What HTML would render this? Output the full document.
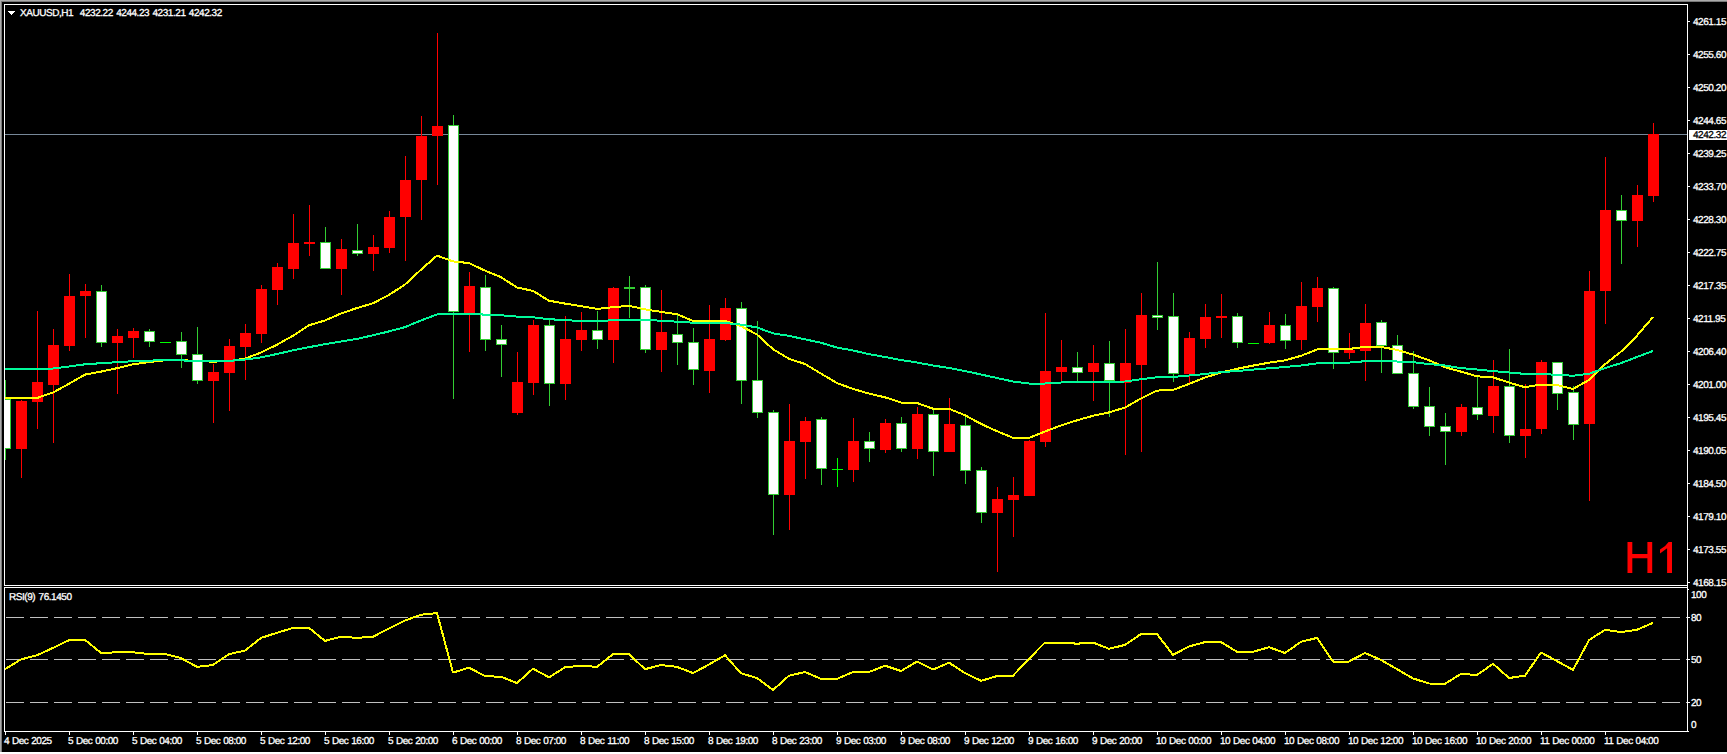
<!DOCTYPE html><html><head><meta charset="utf-8"><title>XAUUSD,H1</title><style>
html,body{margin:0;padding:0;background:#000;}
body{width:1727px;height:754px;overflow:hidden;position:relative;font-family:"Liberation Sans",sans-serif;color:#fff;}
svg{position:absolute;left:0;top:0;}
.t{position:absolute;white-space:nowrap;font-size:10px;line-height:12px;letter-spacing:-0.45px;color:#fff;text-rendering:geometricPrecision;-webkit-text-stroke:0.3px;}
.pl{left:1693px;}
.tl{top:736px;word-spacing:0.5px;}
</style></head><body>
<svg width="1727" height="754" viewBox="0 0 1727 754" shape-rendering="crispEdges">
<rect x="0" y="0" width="1727" height="754" fill="#000"/>
<rect x="0" y="0" width="1727" height="1" fill="#ABABAB"/><rect x="0" y="1" width="1727" height="1" fill="#7a7a7a"/>
<rect x="0" y="0" width="1" height="752" fill="#ABABAB"/><rect x="1" y="1" width="1" height="751" fill="#7a7a7a"/>
<rect x="0" y="752" width="1727" height="2" fill="#ffffff"/>
<rect x="5" y="134" width="1682" height="1" fill="#778899"/>
<defs><clipPath id="cp"><rect x="5" y="5" width="1682" height="580"/></clipPath><clipPath id="cr"><rect x="5" y="588" width="1682" height="143"/></clipPath></defs><g clip-path="url(#cp)">
<rect x="5" y="380" width="1" height="80" fill="#32CD32"/>
<rect x="0" y="399" width="11" height="50" fill="#32CD32"/>
<rect x="1" y="400" width="9" height="48" fill="#FFFFFF"/>
<rect x="21" y="400" width="1" height="78" fill="#FF0000"/>
<rect x="16" y="401" width="11" height="48" fill="#FF0000"/>
<rect x="37" y="311" width="1" height="118" fill="#FF0000"/>
<rect x="32" y="382" width="11" height="20" fill="#FF0000"/>
<rect x="53" y="329" width="1" height="114" fill="#FF0000"/>
<rect x="48" y="345" width="11" height="40" fill="#FF0000"/>
<rect x="69" y="274" width="1" height="77" fill="#FF0000"/>
<rect x="64" y="296" width="11" height="50" fill="#FF0000"/>
<rect x="85" y="284" width="1" height="54" fill="#FF0000"/>
<rect x="80" y="291" width="11" height="5" fill="#FF0000"/>
<rect x="101" y="285" width="1" height="62" fill="#32CD32"/>
<rect x="96" y="291" width="11" height="52" fill="#32CD32"/>
<rect x="97" y="292" width="9" height="50" fill="#FFFFFF"/>
<rect x="117" y="329" width="1" height="65" fill="#FF0000"/>
<rect x="112" y="336" width="11" height="7" fill="#FF0000"/>
<rect x="133" y="328" width="1" height="30" fill="#FF0000"/>
<rect x="128" y="331" width="11" height="7" fill="#FF0000"/>
<rect x="149" y="329" width="1" height="18" fill="#32CD32"/>
<rect x="144" y="331" width="11" height="11" fill="#32CD32"/>
<rect x="145" y="332" width="9" height="9" fill="#FFFFFF"/>
<rect x="165" y="342" width="1" height="1" fill="#00FF00"/>
<rect x="160" y="342" width="11" height="1" fill="#00FF00"/>
<rect x="181" y="332" width="1" height="36" fill="#32CD32"/>
<rect x="176" y="341" width="11" height="14" fill="#32CD32"/>
<rect x="177" y="342" width="9" height="12" fill="#FFFFFF"/>
<rect x="197" y="327" width="1" height="57" fill="#32CD32"/>
<rect x="192" y="354" width="11" height="27" fill="#32CD32"/>
<rect x="193" y="355" width="9" height="25" fill="#FFFFFF"/>
<rect x="213" y="364" width="1" height="59" fill="#FF0000"/>
<rect x="208" y="372" width="11" height="9" fill="#FF0000"/>
<rect x="229" y="339" width="1" height="72" fill="#FF0000"/>
<rect x="224" y="346" width="11" height="27" fill="#FF0000"/>
<rect x="245" y="324" width="1" height="56" fill="#FF0000"/>
<rect x="240" y="333" width="11" height="14" fill="#FF0000"/>
<rect x="261" y="285" width="1" height="58" fill="#FF0000"/>
<rect x="256" y="289" width="11" height="45" fill="#FF0000"/>
<rect x="277" y="263" width="1" height="42" fill="#FF0000"/>
<rect x="272" y="267" width="11" height="23" fill="#FF0000"/>
<rect x="293" y="214" width="1" height="65" fill="#FF0000"/>
<rect x="288" y="243" width="11" height="26" fill="#FF0000"/>
<rect x="309" y="205" width="1" height="51" fill="#FF0000"/>
<rect x="304" y="242" width="11" height="2" fill="#FF0000"/>
<rect x="325" y="227" width="1" height="42" fill="#32CD32"/>
<rect x="320" y="242" width="11" height="27" fill="#32CD32"/>
<rect x="321" y="243" width="9" height="25" fill="#FFFFFF"/>
<rect x="341" y="239" width="1" height="56" fill="#FF0000"/>
<rect x="336" y="249" width="11" height="20" fill="#FF0000"/>
<rect x="357" y="224" width="1" height="32" fill="#32CD32"/>
<rect x="352" y="250" width="11" height="4" fill="#32CD32"/>
<rect x="353" y="251" width="9" height="2" fill="#FFFFFF"/>
<rect x="373" y="235" width="1" height="36" fill="#FF0000"/>
<rect x="368" y="247" width="11" height="7" fill="#FF0000"/>
<rect x="389" y="211" width="1" height="42" fill="#FF0000"/>
<rect x="384" y="217" width="11" height="31" fill="#FF0000"/>
<rect x="405" y="156" width="1" height="105" fill="#FF0000"/>
<rect x="400" y="180" width="11" height="37" fill="#FF0000"/>
<rect x="421" y="116" width="1" height="104" fill="#FF0000"/>
<rect x="416" y="136" width="11" height="44" fill="#FF0000"/>
<rect x="437" y="33" width="1" height="152" fill="#FF0000"/>
<rect x="432" y="126" width="11" height="10" fill="#FF0000"/>
<rect x="453" y="115" width="1" height="284" fill="#32CD32"/>
<rect x="448" y="125" width="11" height="187" fill="#32CD32"/>
<rect x="449" y="126" width="9" height="185" fill="#FFFFFF"/>
<rect x="469" y="272" width="1" height="80" fill="#FF0000"/>
<rect x="464" y="286" width="11" height="27" fill="#FF0000"/>
<rect x="485" y="275" width="1" height="76" fill="#32CD32"/>
<rect x="480" y="287" width="11" height="53" fill="#32CD32"/>
<rect x="481" y="288" width="9" height="51" fill="#FFFFFF"/>
<rect x="501" y="325" width="1" height="52" fill="#32CD32"/>
<rect x="496" y="339" width="11" height="6" fill="#32CD32"/>
<rect x="497" y="340" width="9" height="4" fill="#FFFFFF"/>
<rect x="517" y="352" width="1" height="63" fill="#FF0000"/>
<rect x="512" y="382" width="11" height="31" fill="#FF0000"/>
<rect x="533" y="320" width="1" height="75" fill="#FF0000"/>
<rect x="528" y="325" width="11" height="58" fill="#FF0000"/>
<rect x="549" y="320" width="1" height="86" fill="#32CD32"/>
<rect x="544" y="325" width="11" height="59" fill="#32CD32"/>
<rect x="545" y="326" width="9" height="57" fill="#FFFFFF"/>
<rect x="565" y="316" width="1" height="84" fill="#FF0000"/>
<rect x="560" y="339" width="11" height="45" fill="#FF0000"/>
<rect x="581" y="312" width="1" height="39" fill="#FF0000"/>
<rect x="576" y="330" width="11" height="10" fill="#FF0000"/>
<rect x="597" y="311" width="1" height="38" fill="#32CD32"/>
<rect x="592" y="330" width="11" height="10" fill="#32CD32"/>
<rect x="593" y="331" width="9" height="8" fill="#FFFFFF"/>
<rect x="613" y="287" width="1" height="76" fill="#FF0000"/>
<rect x="608" y="288" width="11" height="52" fill="#FF0000"/>
<rect x="629" y="276" width="1" height="42" fill="#32CD32"/>
<rect x="624" y="287" width="11" height="2" fill="#32CD32"/>
<rect x="645" y="285" width="1" height="68" fill="#32CD32"/>
<rect x="640" y="287" width="11" height="63" fill="#32CD32"/>
<rect x="641" y="288" width="9" height="61" fill="#FFFFFF"/>
<rect x="661" y="290" width="1" height="82" fill="#FF0000"/>
<rect x="656" y="332" width="11" height="18" fill="#FF0000"/>
<rect x="677" y="315" width="1" height="50" fill="#32CD32"/>
<rect x="672" y="334" width="11" height="9" fill="#32CD32"/>
<rect x="673" y="335" width="9" height="7" fill="#FFFFFF"/>
<rect x="693" y="328" width="1" height="57" fill="#32CD32"/>
<rect x="688" y="342" width="11" height="28" fill="#32CD32"/>
<rect x="689" y="343" width="9" height="26" fill="#FFFFFF"/>
<rect x="709" y="305" width="1" height="88" fill="#FF0000"/>
<rect x="704" y="339" width="11" height="32" fill="#FF0000"/>
<rect x="725" y="298" width="1" height="43" fill="#FF0000"/>
<rect x="720" y="308" width="11" height="32" fill="#FF0000"/>
<rect x="741" y="302" width="1" height="102" fill="#32CD32"/>
<rect x="736" y="308" width="11" height="73" fill="#32CD32"/>
<rect x="737" y="309" width="9" height="71" fill="#FFFFFF"/>
<rect x="757" y="321" width="1" height="97" fill="#32CD32"/>
<rect x="752" y="380" width="11" height="33" fill="#32CD32"/>
<rect x="753" y="381" width="9" height="31" fill="#FFFFFF"/>
<rect x="773" y="410" width="1" height="125" fill="#32CD32"/>
<rect x="768" y="412" width="11" height="83" fill="#32CD32"/>
<rect x="769" y="413" width="9" height="81" fill="#FFFFFF"/>
<rect x="789" y="404" width="1" height="126" fill="#FF0000"/>
<rect x="784" y="441" width="11" height="54" fill="#FF0000"/>
<rect x="805" y="417" width="1" height="62" fill="#FF0000"/>
<rect x="800" y="421" width="11" height="21" fill="#FF0000"/>
<rect x="821" y="417" width="1" height="68" fill="#32CD32"/>
<rect x="816" y="419" width="11" height="50" fill="#32CD32"/>
<rect x="817" y="420" width="9" height="48" fill="#FFFFFF"/>
<rect x="837" y="458" width="1" height="29" fill="#00FF00"/>
<rect x="832" y="469" width="11" height="1" fill="#00FF00"/>
<rect x="853" y="418" width="1" height="64" fill="#FF0000"/>
<rect x="848" y="441" width="11" height="29" fill="#FF0000"/>
<rect x="869" y="432" width="1" height="30" fill="#32CD32"/>
<rect x="864" y="441" width="11" height="8" fill="#32CD32"/>
<rect x="865" y="442" width="9" height="6" fill="#FFFFFF"/>
<rect x="885" y="419" width="1" height="34" fill="#FF0000"/>
<rect x="880" y="423" width="11" height="27" fill="#FF0000"/>
<rect x="901" y="417" width="1" height="35" fill="#32CD32"/>
<rect x="896" y="423" width="11" height="26" fill="#32CD32"/>
<rect x="897" y="424" width="9" height="24" fill="#FFFFFF"/>
<rect x="917" y="407" width="1" height="52" fill="#FF0000"/>
<rect x="912" y="414" width="11" height="35" fill="#FF0000"/>
<rect x="933" y="410" width="1" height="66" fill="#32CD32"/>
<rect x="928" y="414" width="11" height="38" fill="#32CD32"/>
<rect x="929" y="415" width="9" height="36" fill="#FFFFFF"/>
<rect x="949" y="398" width="1" height="54" fill="#FF0000"/>
<rect x="944" y="424" width="11" height="28" fill="#FF0000"/>
<rect x="965" y="416" width="1" height="68" fill="#32CD32"/>
<rect x="960" y="425" width="11" height="46" fill="#32CD32"/>
<rect x="961" y="426" width="9" height="44" fill="#FFFFFF"/>
<rect x="981" y="467" width="1" height="56" fill="#32CD32"/>
<rect x="976" y="470" width="11" height="43" fill="#32CD32"/>
<rect x="977" y="471" width="9" height="41" fill="#FFFFFF"/>
<rect x="997" y="487" width="1" height="85" fill="#FF0000"/>
<rect x="992" y="499" width="11" height="14" fill="#FF0000"/>
<rect x="1013" y="477" width="1" height="60" fill="#FF0000"/>
<rect x="1008" y="495" width="11" height="5" fill="#FF0000"/>
<rect x="1029" y="440" width="1" height="56" fill="#FF0000"/>
<rect x="1024" y="441" width="11" height="55" fill="#FF0000"/>
<rect x="1045" y="313" width="1" height="134" fill="#FF0000"/>
<rect x="1040" y="371" width="11" height="71" fill="#FF0000"/>
<rect x="1061" y="340" width="1" height="42" fill="#FF0000"/>
<rect x="1056" y="367" width="11" height="5" fill="#FF0000"/>
<rect x="1077" y="352" width="1" height="31" fill="#32CD32"/>
<rect x="1072" y="367" width="11" height="6" fill="#32CD32"/>
<rect x="1073" y="368" width="9" height="4" fill="#FFFFFF"/>
<rect x="1093" y="345" width="1" height="56" fill="#FF0000"/>
<rect x="1088" y="363" width="11" height="9" fill="#FF0000"/>
<rect x="1109" y="341" width="1" height="76" fill="#32CD32"/>
<rect x="1104" y="363" width="11" height="18" fill="#32CD32"/>
<rect x="1105" y="364" width="9" height="16" fill="#FFFFFF"/>
<rect x="1125" y="329" width="1" height="126" fill="#FF0000"/>
<rect x="1120" y="363" width="11" height="20" fill="#FF0000"/>
<rect x="1141" y="293" width="1" height="159" fill="#FF0000"/>
<rect x="1136" y="315" width="11" height="50" fill="#FF0000"/>
<rect x="1157" y="262" width="1" height="68" fill="#32CD32"/>
<rect x="1152" y="315" width="11" height="3" fill="#32CD32"/>
<rect x="1153" y="316" width="9" height="1" fill="#FFFFFF"/>
<rect x="1173" y="293" width="1" height="89" fill="#32CD32"/>
<rect x="1168" y="316" width="11" height="58" fill="#32CD32"/>
<rect x="1169" y="317" width="9" height="56" fill="#FFFFFF"/>
<rect x="1189" y="332" width="1" height="51" fill="#FF0000"/>
<rect x="1184" y="338" width="11" height="36" fill="#FF0000"/>
<rect x="1205" y="304" width="1" height="44" fill="#FF0000"/>
<rect x="1200" y="317" width="11" height="22" fill="#FF0000"/>
<rect x="1221" y="294" width="1" height="44" fill="#FF0000"/>
<rect x="1216" y="316" width="11" height="2" fill="#FF0000"/>
<rect x="1237" y="313" width="1" height="35" fill="#32CD32"/>
<rect x="1232" y="316" width="11" height="27" fill="#32CD32"/>
<rect x="1233" y="317" width="9" height="25" fill="#FFFFFF"/>
<rect x="1253" y="343" width="1" height="1" fill="#00FF00"/>
<rect x="1248" y="343" width="11" height="1" fill="#00FF00"/>
<rect x="1269" y="312" width="1" height="32" fill="#FF0000"/>
<rect x="1264" y="325" width="11" height="18" fill="#FF0000"/>
<rect x="1285" y="314" width="1" height="35" fill="#32CD32"/>
<rect x="1280" y="325" width="11" height="16" fill="#32CD32"/>
<rect x="1281" y="326" width="9" height="14" fill="#FFFFFF"/>
<rect x="1301" y="282" width="1" height="68" fill="#FF0000"/>
<rect x="1296" y="306" width="11" height="34" fill="#FF0000"/>
<rect x="1317" y="277" width="1" height="45" fill="#FF0000"/>
<rect x="1312" y="288" width="11" height="19" fill="#FF0000"/>
<rect x="1333" y="287" width="1" height="82" fill="#32CD32"/>
<rect x="1328" y="288" width="11" height="65" fill="#32CD32"/>
<rect x="1329" y="289" width="9" height="63" fill="#FFFFFF"/>
<rect x="1349" y="333" width="1" height="26" fill="#FF0000"/>
<rect x="1344" y="350" width="11" height="3" fill="#FF0000"/>
<rect x="1365" y="304" width="1" height="77" fill="#FF0000"/>
<rect x="1360" y="323" width="11" height="28" fill="#FF0000"/>
<rect x="1381" y="320" width="1" height="53" fill="#32CD32"/>
<rect x="1376" y="322" width="11" height="24" fill="#32CD32"/>
<rect x="1377" y="323" width="9" height="22" fill="#FFFFFF"/>
<rect x="1397" y="335" width="1" height="39" fill="#32CD32"/>
<rect x="1392" y="345" width="11" height="29" fill="#32CD32"/>
<rect x="1393" y="346" width="9" height="27" fill="#FFFFFF"/>
<rect x="1413" y="351" width="1" height="58" fill="#32CD32"/>
<rect x="1408" y="373" width="11" height="34" fill="#32CD32"/>
<rect x="1409" y="374" width="9" height="32" fill="#FFFFFF"/>
<rect x="1429" y="387" width="1" height="49" fill="#32CD32"/>
<rect x="1424" y="406" width="11" height="21" fill="#32CD32"/>
<rect x="1425" y="407" width="9" height="19" fill="#FFFFFF"/>
<rect x="1445" y="413" width="1" height="52" fill="#32CD32"/>
<rect x="1440" y="426" width="11" height="6" fill="#32CD32"/>
<rect x="1441" y="427" width="9" height="4" fill="#FFFFFF"/>
<rect x="1461" y="404" width="1" height="32" fill="#FF0000"/>
<rect x="1456" y="407" width="11" height="25" fill="#FF0000"/>
<rect x="1477" y="377" width="1" height="43" fill="#32CD32"/>
<rect x="1472" y="407" width="11" height="8" fill="#32CD32"/>
<rect x="1473" y="408" width="9" height="6" fill="#FFFFFF"/>
<rect x="1493" y="360" width="1" height="73" fill="#FF0000"/>
<rect x="1488" y="386" width="11" height="30" fill="#FF0000"/>
<rect x="1509" y="349" width="1" height="94" fill="#32CD32"/>
<rect x="1504" y="386" width="11" height="50" fill="#32CD32"/>
<rect x="1505" y="387" width="9" height="48" fill="#FFFFFF"/>
<rect x="1525" y="384" width="1" height="74" fill="#FF0000"/>
<rect x="1520" y="429" width="11" height="7" fill="#FF0000"/>
<rect x="1541" y="360" width="1" height="74" fill="#FF0000"/>
<rect x="1536" y="362" width="11" height="67" fill="#FF0000"/>
<rect x="1557" y="363" width="1" height="47" fill="#32CD32"/>
<rect x="1552" y="362" width="11" height="32" fill="#32CD32"/>
<rect x="1553" y="363" width="9" height="30" fill="#FFFFFF"/>
<rect x="1573" y="386" width="1" height="54" fill="#32CD32"/>
<rect x="1568" y="392" width="11" height="33" fill="#32CD32"/>
<rect x="1569" y="393" width="9" height="31" fill="#FFFFFF"/>
<rect x="1589" y="271" width="1" height="230" fill="#FF0000"/>
<rect x="1584" y="291" width="11" height="133" fill="#FF0000"/>
<rect x="1605" y="157" width="1" height="167" fill="#FF0000"/>
<rect x="1600" y="210" width="11" height="81" fill="#FF0000"/>
<rect x="1621" y="195" width="1" height="69" fill="#32CD32"/>
<rect x="1616" y="210" width="11" height="11" fill="#32CD32"/>
<rect x="1617" y="211" width="9" height="9" fill="#FFFFFF"/>
<rect x="1637" y="185" width="1" height="62" fill="#FF0000"/>
<rect x="1632" y="195" width="11" height="26" fill="#FF0000"/>
<rect x="1653" y="123" width="1" height="79" fill="#FF0000"/>
<rect x="1648" y="134" width="11" height="62" fill="#FF0000"/>
<polyline points="5,398.0 21,398.0 37,398.0 53,392.5 69,383.8 85,374.6 101,371.6 117,368.2 133,364.3 149,362.1 165,360.3 181,360.0 197,361.2 213,361.6 229,361.2 245,358.6 261,352.5 277,344.7 293,335.7 309,325.3 325,320.5 341,313.5 357,308.0 373,303.3 389,294.9 405,284.5 421,269.7 437,255.6 453,261.4 469,263.1 485,270.6 501,277.2 517,287.5 533,290.9 549,300.7 565,303.6 581,306.2 597,308.9 613,307.2 629,305.8 645,309.3 661,311.9 677,314.2 693,321.0 709,321.0 725,321.0 741,326.1 757,334.5 773,349.2 789,358.8 805,364.0 821,373.6 837,383.1 853,388.9 869,393.6 885,397.3 901,402.5 917,403.0 933,408.7 949,408.8 965,415.2 981,423.9 997,431.2 1013,437.8 1029,438.0 1045,431.5 1061,425.4 1077,420.3 1093,415.8 1109,412.4 1125,407.6 1141,398.5 1157,390.6 1173,390.0 1189,384.0 1205,377.5 1221,372.6 1237,368.8 1253,365.6 1269,362.7 1285,360.4 1301,355.8 1317,349.5 1333,349.0 1349,349.0 1365,346.8 1381,346.9 1397,349.9 1413,354.6 1429,360.3 1445,367.3 1461,371.6 1477,376.3 1493,377.3 1509,382.6 1525,387.2 1541,384.6 1557,385.0 1573,389.0 1589,380.0 1605,364.3 1621,351.6 1637,335.6 1653,317.0" fill="none" stroke="#FFFF00" stroke-width="2" stroke-linejoin="round"/>
<polyline points="5,369.0 21,369.0 37,369.0 53,368.5 69,366.5 85,364.3 101,363.2 117,362.2 133,361.2 149,360.6 165,360.2 181,360.4 197,360.9 213,361.0 229,360.9 245,359.5 261,357.4 277,354.0 293,350.3 309,347.2 325,344.1 341,341.5 357,338.9 373,335.3 389,331.4 405,327.1 421,320.5 437,314.4 453,314.0 469,314.0 485,314.6 501,315.3 517,316.6 533,317.2 549,319.2 565,320.1 581,321.0 597,321.0 613,320.3 629,320.0 645,320.0 661,320.7 677,321.7 693,322.7 709,323.0 725,323.0 741,324.6 757,327.5 773,333.3 789,335.9 805,339.3 821,342.8 837,347.5 853,350.5 869,354.1 885,357.0 901,360.0 917,362.5 933,365.5 949,368.0 965,371.0 981,374.5 997,378.0 1013,381.5 1029,383.5 1045,383.5 1061,382.5 1077,382.2 1093,382.0 1109,381.7 1125,381.5 1141,379.2 1157,377.3 1173,377.0 1189,375.5 1205,374.0 1221,372.2 1237,371.0 1253,369.6 1269,368.3 1285,367.0 1301,365.5 1317,363.4 1333,362.9 1349,362.6 1365,361.2 1381,360.7 1397,361.5 1413,362.1 1429,364.1 1445,365.5 1461,368.1 1477,369.5 1493,371.1 1509,372.5 1525,373.9 1541,374.2 1557,374.7 1573,375.8 1589,373.8 1605,368.1 1621,363.1 1637,357.0 1653,351.0" fill="none" stroke="#00FA9A" stroke-width="2" stroke-linejoin="round"/>
</g>
<line x1="6" y1="617.5" x2="1687" y2="617.5" stroke="#C0C0C0" stroke-width="1" stroke-dasharray="18 6"/>
<line x1="6" y1="659.5" x2="1687" y2="659.5" stroke="#C0C0C0" stroke-width="1" stroke-dasharray="18 6"/>
<line x1="6" y1="702.5" x2="1687" y2="702.5" stroke="#C0C0C0" stroke-width="1" stroke-dasharray="18 6"/>
<g clip-path="url(#cr)">
<polyline points="5,669.2 21,659.4 37,655.3 53,647.9 69,640.2 85,639.8 101,653.0 117,652.3 133,652.3 149,654.1 165,654.1 181,658.1 197,666.9 213,665.0 229,654.1 245,650.6 261,637.9 277,632.8 293,627.9 309,627.9 325,640.9 341,636.7 357,637.9 373,636.7 389,628.5 405,620.5 421,614.7 437,613.1 453,672.6 469,667.6 485,676.1 501,676.8 517,683.1 533,668.7 549,677.3 565,667.3 581,665.7 597,666.9 613,654.1 629,654.1 645,669.2 661,665.0 677,666.9 693,673.1 709,664.5 725,655.3 741,673.3 757,678.0 773,690.0 789,675.7 805,672.0 821,678.9 837,678.9 853,672.0 869,672.0 885,665.7 901,671.0 917,661.5 933,669.6 949,662.7 965,673.1 981,680.8 997,676.1 1013,675.7 1029,658.7 1045,642.5 1061,642.5 1077,643.7 1093,642.5 1109,648.8 1125,644.9 1141,634.0 1157,634.0 1173,654.8 1189,646.5 1205,642.1 1221,642.1 1237,651.8 1253,651.8 1269,647.2 1285,653.0 1301,641.8 1317,637.9 1333,661.5 1349,661.5 1365,653.0 1381,659.9 1397,669.2 1413,678.4 1429,683.5 1445,683.8 1461,673.8 1477,675.0 1493,663.8 1509,678.0 1525,675.7 1541,652.5 1557,661.1 1573,669.9 1589,640.2 1605,629.8 1621,632.1 1637,629.8 1653,622.8" fill="none" stroke="#FFFF00" stroke-width="2" stroke-linejoin="round"/>
</g>
<rect x="4" y="4" width="1684" height="1" fill="#fff"/>
<rect x="4" y="4" width="1" height="728" fill="#fff"/>
<rect x="1687" y="4" width="1" height="728" fill="#fff"/>
<rect x="4" y="585" width="1684" height="1" fill="#fff"/>
<rect x="4" y="587" width="1684" height="1" fill="#fff"/>
<rect x="4" y="731" width="1685" height="1" fill="#fff"/>
<rect x="2" y="586" width="1686" height="1" fill="#000"/>
<rect x="1687" y="586" width="1" height="1" fill="#fff"/>
<rect x="1688" y="21" width="2" height="1" fill="#fff"/>
<rect x="1688" y="54" width="2" height="1" fill="#fff"/>
<rect x="1688" y="87" width="2" height="1" fill="#fff"/>
<rect x="1688" y="120" width="2" height="1" fill="#fff"/>
<rect x="1688" y="153" width="2" height="1" fill="#fff"/>
<rect x="1688" y="186" width="2" height="1" fill="#fff"/>
<rect x="1688" y="219" width="2" height="1" fill="#fff"/>
<rect x="1688" y="252" width="2" height="1" fill="#fff"/>
<rect x="1688" y="285" width="2" height="1" fill="#fff"/>
<rect x="1688" y="318" width="2" height="1" fill="#fff"/>
<rect x="1688" y="351" width="2" height="1" fill="#fff"/>
<rect x="1688" y="384" width="2" height="1" fill="#fff"/>
<rect x="1688" y="417" width="2" height="1" fill="#fff"/>
<rect x="1688" y="450" width="2" height="1" fill="#fff"/>
<rect x="1688" y="483" width="2" height="1" fill="#fff"/>
<rect x="1688" y="516" width="2" height="1" fill="#fff"/>
<rect x="1688" y="549" width="2" height="1" fill="#fff"/>
<rect x="1688" y="582" width="2" height="1" fill="#fff"/>
<rect x="1688" y="589" width="1" height="1" fill="#fff"/>
<rect x="1688" y="617" width="2" height="1" fill="#fff"/>
<rect x="1688" y="659" width="2" height="1" fill="#fff"/>
<rect x="1688" y="702" width="2" height="1" fill="#fff"/>
<rect x="5" y="732" width="1" height="3" fill="#fff"/>
<rect x="69" y="732" width="1" height="3" fill="#fff"/>
<rect x="133" y="732" width="1" height="3" fill="#fff"/>
<rect x="197" y="732" width="1" height="3" fill="#fff"/>
<rect x="261" y="732" width="1" height="3" fill="#fff"/>
<rect x="325" y="732" width="1" height="3" fill="#fff"/>
<rect x="389" y="732" width="1" height="3" fill="#fff"/>
<rect x="453" y="732" width="1" height="3" fill="#fff"/>
<rect x="517" y="732" width="1" height="3" fill="#fff"/>
<rect x="581" y="732" width="1" height="3" fill="#fff"/>
<rect x="645" y="732" width="1" height="3" fill="#fff"/>
<rect x="709" y="732" width="1" height="3" fill="#fff"/>
<rect x="773" y="732" width="1" height="3" fill="#fff"/>
<rect x="837" y="732" width="1" height="3" fill="#fff"/>
<rect x="901" y="732" width="1" height="3" fill="#fff"/>
<rect x="965" y="732" width="1" height="3" fill="#fff"/>
<rect x="1029" y="732" width="1" height="3" fill="#fff"/>
<rect x="1093" y="732" width="1" height="3" fill="#fff"/>
<rect x="1157" y="732" width="1" height="3" fill="#fff"/>
<rect x="1221" y="732" width="1" height="3" fill="#fff"/>
<rect x="1285" y="732" width="1" height="3" fill="#fff"/>
<rect x="1349" y="732" width="1" height="3" fill="#fff"/>
<rect x="1413" y="732" width="1" height="3" fill="#fff"/>
<rect x="1477" y="732" width="1" height="3" fill="#fff"/>
<rect x="1541" y="732" width="1" height="3" fill="#fff"/>
<rect x="1605" y="732" width="1" height="3" fill="#fff"/>
<rect x="1689" y="130" width="38" height="10" fill="#fff"/>
<rect x="8" y="11" width="7" height="1" fill="#fff"/><rect x="9" y="12" width="5" height="1" fill="#fff"/><rect x="10" y="13" width="3" height="1" fill="#fff"/><rect x="11" y="14" width="1" height="1" fill="#fff"/>
</svg>
<div class="t pl" style="top:17px">4261.15</div>
<div class="t pl" style="top:50px">4255.60</div>
<div class="t pl" style="top:83px">4250.20</div>
<div class="t pl" style="top:116px">4244.65</div>
<div class="t pl" style="top:149px">4239.25</div>
<div class="t pl" style="top:182px">4233.70</div>
<div class="t pl" style="top:215px">4228.30</div>
<div class="t pl" style="top:248px">4222.75</div>
<div class="t pl" style="top:281px">4217.35</div>
<div class="t pl" style="top:314px">4211.95</div>
<div class="t pl" style="top:347px">4206.40</div>
<div class="t pl" style="top:380px">4201.00</div>
<div class="t pl" style="top:413px">4195.45</div>
<div class="t pl" style="top:446px">4190.05</div>
<div class="t pl" style="top:479px">4184.50</div>
<div class="t pl" style="top:512px">4179.10</div>
<div class="t pl" style="top:545px">4173.55</div>
<div class="t pl" style="top:578px">4168.15</div>
<div class="t pl" style="top:130px;color:#000">4242.32</div>
<div class="t" style="left:1691px;top:590px">100</div>
<div class="t" style="left:1691px;top:613px">80</div>
<div class="t" style="left:1691px;top:655px">50</div>
<div class="t" style="left:1691px;top:698px">20</div>
<div class="t" style="left:1691px;top:720px">0</div>
<div class="t tl" style="left:4px">4 Dec 2025</div>
<div class="t tl" style="left:68px">5 Dec 00:00</div>
<div class="t tl" style="left:132px">5 Dec 04:00</div>
<div class="t tl" style="left:196px">5 Dec 08:00</div>
<div class="t tl" style="left:260px">5 Dec 12:00</div>
<div class="t tl" style="left:324px">5 Dec 16:00</div>
<div class="t tl" style="left:388px">5 Dec 20:00</div>
<div class="t tl" style="left:452px">6 Dec 00:00</div>
<div class="t tl" style="left:516px">8 Dec 07:00</div>
<div class="t tl" style="left:580px">8 Dec 11:00</div>
<div class="t tl" style="left:644px">8 Dec 15:00</div>
<div class="t tl" style="left:708px">8 Dec 19:00</div>
<div class="t tl" style="left:772px">8 Dec 23:00</div>
<div class="t tl" style="left:836px">9 Dec 03:00</div>
<div class="t tl" style="left:900px">9 Dec 08:00</div>
<div class="t tl" style="left:964px">9 Dec 12:00</div>
<div class="t tl" style="left:1028px">9 Dec 16:00</div>
<div class="t tl" style="left:1092px">9 Dec 20:00</div>
<div class="t tl" style="left:1156px">10 Dec 00:00</div>
<div class="t tl" style="left:1220px">10 Dec 04:00</div>
<div class="t tl" style="left:1284px">10 Dec 08:00</div>
<div class="t tl" style="left:1348px">10 Dec 12:00</div>
<div class="t tl" style="left:1412px">10 Dec 16:00</div>
<div class="t tl" style="left:1476px">10 Dec 20:00</div>
<div class="t tl" style="left:1540px">11 Dec 00:00</div>
<div class="t tl" style="left:1604px">11 Dec 04:00</div>
<div class="t" id="title" style="left:20px;top:8px;word-spacing:1px">XAUUSD,H1&nbsp; 4232.22 4244.23 4231.21 4242.32</div>
<div class="t" id="rsi" style="left:9px;top:592px;word-spacing:1px">RSI(9) 76.1450</div>
<svg width="1727" height="754" viewBox="0 0 1727 754" style="pointer-events:none"><g fill="#FF0000"><path d="M1627.5,541.9 H1632.3 V553.9 H1647.4 V541.9 H1652.2 V573.1 H1647.4 V558.2 H1632.3 V573.1 H1627.5 Z"/><path d="M1672,541.9 V573.1 H1667.1 V548.3 L1660,553.4 V549.4 Q1665.6,546.6 1668.6,541.9 Z"/></g></svg>
</body></html>
